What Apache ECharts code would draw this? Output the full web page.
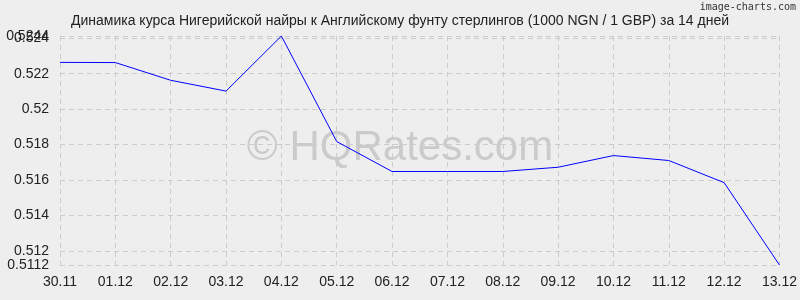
<!DOCTYPE html>
<html>
<head>
<meta charset="utf-8">
<script src="https://cdn.jsdelivr.net/npm/echarts@6/dist/echarts.min.js"></script>
<style>
html,body{margin:0;padding:0;background:#eeeeee;}
#c{width:800px;height:300px;}
</style>
</head>
<body>
<div id="c"></div>
<script>
var categories = ['30.11','01.12','02.12','03.12','04.12','05.12','06.12','07.12','08.12','09.12','10.12','11.12','12.12','13.12'];
var rates = [0.52264,0.52263,0.52163,0.52102,0.52413,0.51817,0.51648,0.51648,0.51648,0.51672,0.51738,0.51710,0.51585,0.51120];
var yMin = 0.5112;
var yMax = 0.52413;
var yTicks = [0.5112,0.512,0.514,0.516,0.518,0.52,0.522,0.524,0.52413];
var yTickLabels = ['0.5112','0.512','0.514','0.516','0.518','0.52','0.522','0.524','0.5244'];
var yTopTick = [0.524];
var yTopTickLabel = '0.524';
var titleText = 'Динамика курса Нигерийской найры к Английскому фунту стерлингов (1000 NGN / 1 GBP) за 14 дней';

var chart = echarts.init(document.getElementById('c'), null, {renderer:'canvas'});
var font = 'Liberation Sans, Arial, sans-serif';
function labelFor(v){ var i=0,best=0,d=1; for(i=0;i<yTicks.length;i++){ if(Math.abs(yTicks[i]-v)<d){d=Math.abs(yTicks[i]-v);best=i;} } return yTickLabels[best]; }
chart.setOption({
  backgroundColor:'#eeeeee',
  animation:false,
  title:{text:titleText,left:'center',top:9,textStyle:{fontFamily:font,fontSize:14,fontWeight:'normal',color:'#222'}},
  grid:{left:60,right:20,top:36,bottom:35},
  graphic:[
    {type:'text',left:'center',top:127,style:{text:'© HQRates.com',fill:'rgba(160,160,160,0.45)',font:'42px '+font}},
    {type:'text',right:4,top:2,style:{text:'image-charts.com',fill:'#333',font:'10px DejaVu Sans Mono, monospace'}}
  ],
  xAxis:{type:'category',data:categories,boundaryGap:false,
    axisLine:{show:false},axisTick:{show:false},
    axisLabel:{color:'#222',fontFamily:font,fontSize:14,margin:10,interval:0},
    splitLine:{show:true,lineStyle:{color:'#cccccc',type:[5,4]}}},
  yAxis:[{type:'value',min:yMin,max:yMax,
    axisLine:{show:false},
    axisTick:{show:false,customValues:yTicks},
    axisLabel:{color:'#222',fontFamily:font,fontSize:14,margin:11,customValues:yTicks,
      showMinLabel:true,showMaxLabel:true,hideOverlap:false,formatter:labelFor},
    splitLine:{show:true,lineStyle:{color:'#cccccc',type:[5,4]}}},
  {type:'value',min:yMin,max:yMax,position:'left',
    axisLine:{show:false},
    axisTick:{show:false,customValues:yTopTick},
    axisLabel:{color:'#222',fontFamily:font,fontSize:14,margin:11,customValues:yTopTick,
      showMinLabel:false,showMaxLabel:false,formatter:function(){return yTopTickLabel;}},
    splitLine:{show:false}}],
  series:[{type:'line',yAxisIndex:0,data:rates,symbol:'none',lineStyle:{color:'#0000ff',width:1},silent:true}]
});
</script>
</body>
</html>
